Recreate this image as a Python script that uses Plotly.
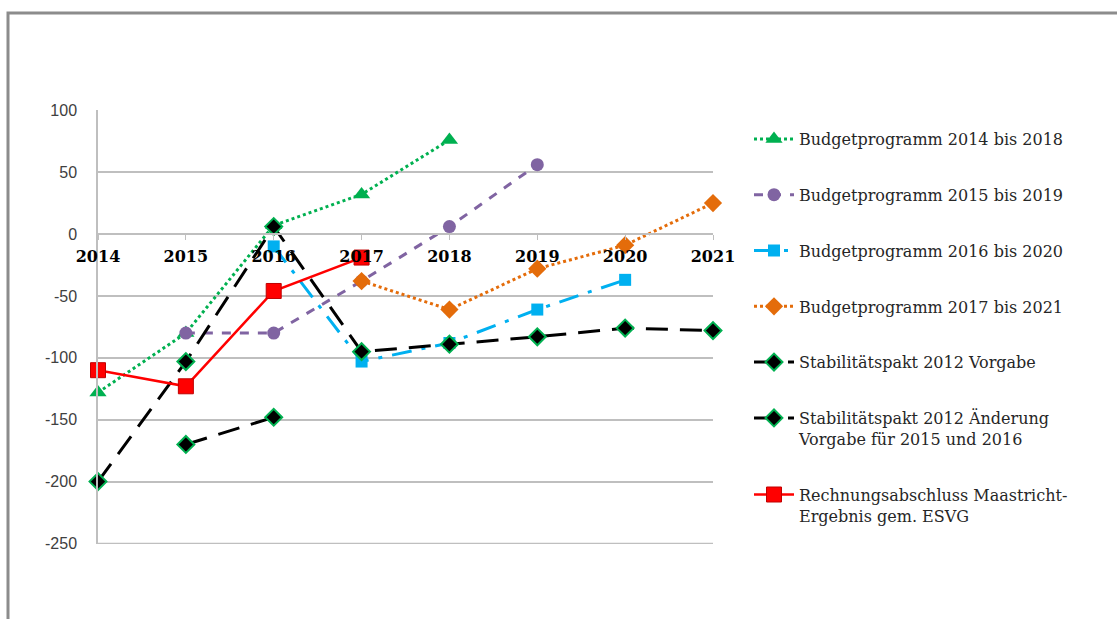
import plotly.graph_objects as go

years = [2014, 2015, 2016, 2017, 2018, 2019, 2020, 2021]

bp_2014_x = [2014, 2015, 2016, 2017, 2018]
bp_2014_y = [-128, -80, 7, 32, 76]

bp_2015_x = [2015, 2016, 2017, 2018, 2019]
bp_2015_y = [-80, -80, -38, 6, 56]

bp_2016_x = [2016, 2017, 2018, 2019, 2020]
bp_2016_y = [-10, -103, -88, -61, -37]

bp_2017_x = [2017, 2018, 2019, 2020, 2021]
bp_2017_y = [-38, -61, -28, -9, 25]

stab_x = [2014, 2015, 2016, 2017, 2018, 2019, 2020, 2021]
stab_y = [-200, -103, 6, -95, -89, -83, -76, -78]

stab_chg_x = [2015, 2016]
stab_chg_y = [-170, -148]

ra_x = [2014, 2015, 2016, 2017]
ra_y = [-110, -123, -46, -19]

y_ticks = [-250, -200, -150, -100, -50, 0, 50, 100]
y_tick_text = ["-250", "-200", "-150", "-100", "-50", "0", "50", "100"]

names = [
    "Budgetprogramm 2014 bis 2018",
    "Budgetprogramm 2015 bis 2019",
    "Budgetprogramm 2016 bis 2020",
    "Budgetprogramm 2017 bis 2021",
    "Stabilitätspakt 2012 Vorgabe",
    "Stabilitätspakt 2012 Änderung<br>Vorgabe für 2015 und 2016",
    "Rechnungsabschluss Maastricht-<br>Ergebnis gem. ESVG",
]

fig = go.Figure()

def add(x, y, i, line, marker):
    fig.add_trace(go.Scatter(x=x, y=y, name=names[i], legendgroup="g%d" % i,
                             mode="lines+markers", line=line, marker=marker,
                             cliponaxis=False))

add(bp_2014_x, bp_2014_y, 0, dict(color="#00B050", width=3, dash="dot"),
    dict(symbol="triangle-up", size=15, color="#00B050"))
add(bp_2015_x, bp_2015_y, 1, dict(color="#8064A2", width=3, dash="dash"),
    dict(symbol="circle", size=13, color="#8064A2"))
add(bp_2016_x, bp_2016_y, 2, dict(color="#00B0F0", width=3, dash="20px,10px,4px,10px"),
    dict(symbol="square", size=12, color="#00B0F0"))
add(bp_2017_x, bp_2017_y, 3, dict(color="#E46C0A", width=3, dash="dot"),
    dict(symbol="diamond", size=14, color="#E46C0A"))
add(stab_x, stab_y, 4, dict(color="#000000", width=3, dash="22px,12px"),
    dict(symbol="diamond", size=13, color="#000000", line=dict(color="#00B050", width=2)))
add(stab_chg_x, stab_chg_y, 5, dict(color="#000000", width=3, dash="22px,12px"),
    dict(symbol="diamond", size=13, color="#000000", line=dict(color="#00B050", width=2)))
add(ra_x, ra_y, 6, dict(color="#FF0000", width=2.5),
    dict(symbol="square", size=15, color="#FF0000", line=dict(color="#C00000", width=1)))

W, H = 1117, 619
L, R, T, B = 98, 713, 110, 544
pw, ph = R - L, B - T

fig.update_layout(
    width=W, height=H,
    margin=dict(l=L, r=W - R, t=T, b=H - B, pad=0),
    paper_bgcolor="white", plot_bgcolor="white",
    showlegend=True,
    legend=dict(
        x=(749 - L) / pw, y=(B - 122) / ph, xanchor="left", yanchor="top",
        font=dict(family="DejaVu Serif", size=16, color="#262626"),
        tracegroupgap=32, valign="top", itemwidth=40,
        bgcolor="rgba(0,0,0,0)",
    ),
    xaxis=dict(
        range=[2014, 2021], tickmode="array", tickvals=years,
        ticktext=[str(y) for y in years],
        showgrid=False, zeroline=False,
        showline=True, linecolor="#BFBFBF", linewidth=1.5,
        ticks="outside", ticklen=5, tickcolor="#BFBFBF",
        anchor="free", position=(0 - (-250)) / 350,
        ticklabelstandoff=3,
        tickfont=dict(family="DejaVu Serif", size=16, color="#000000", weight="bold"),
        fixedrange=True,
    ),
    yaxis=dict(
        range=[-250.4, 100.2], tickmode="array", tickvals=y_ticks, ticktext=y_tick_text,
        showgrid=True, gridcolor="#BFBFBF", gridwidth=1.5,
        zeroline=False, showline=True, linecolor="#BFBFBF", linewidth=1.5,
        ticks="", ticklabelstandoff=16,
        tickfont=dict(family="Liberation Sans", size=16, color="#404040"),
        fixedrange=True,
    ),
)

# bottom gridline at the lowest tick (plotly omits it at the plot edge)
fig.add_shape(type="line", xref="paper", yref="y", x0=0, x1=1,
              y0=y_ticks[0], y1=y_ticks[0],
              line=dict(color="#BFBFBF", width=1.5), layer="below")

# chart-area frame (extends beyond the visible page, as in the reference crop)
fig.add_shape(type="rect", xref="paper", yref="paper",
              x0=(8 - L) / pw, x1=(1130 - L) / pw,
              y0=(B - 640) / ph, y1=(B - 13) / ph,
              line=dict(color="#8C8C8C", width=3), layer="below")

fig.write_html("out.html")
